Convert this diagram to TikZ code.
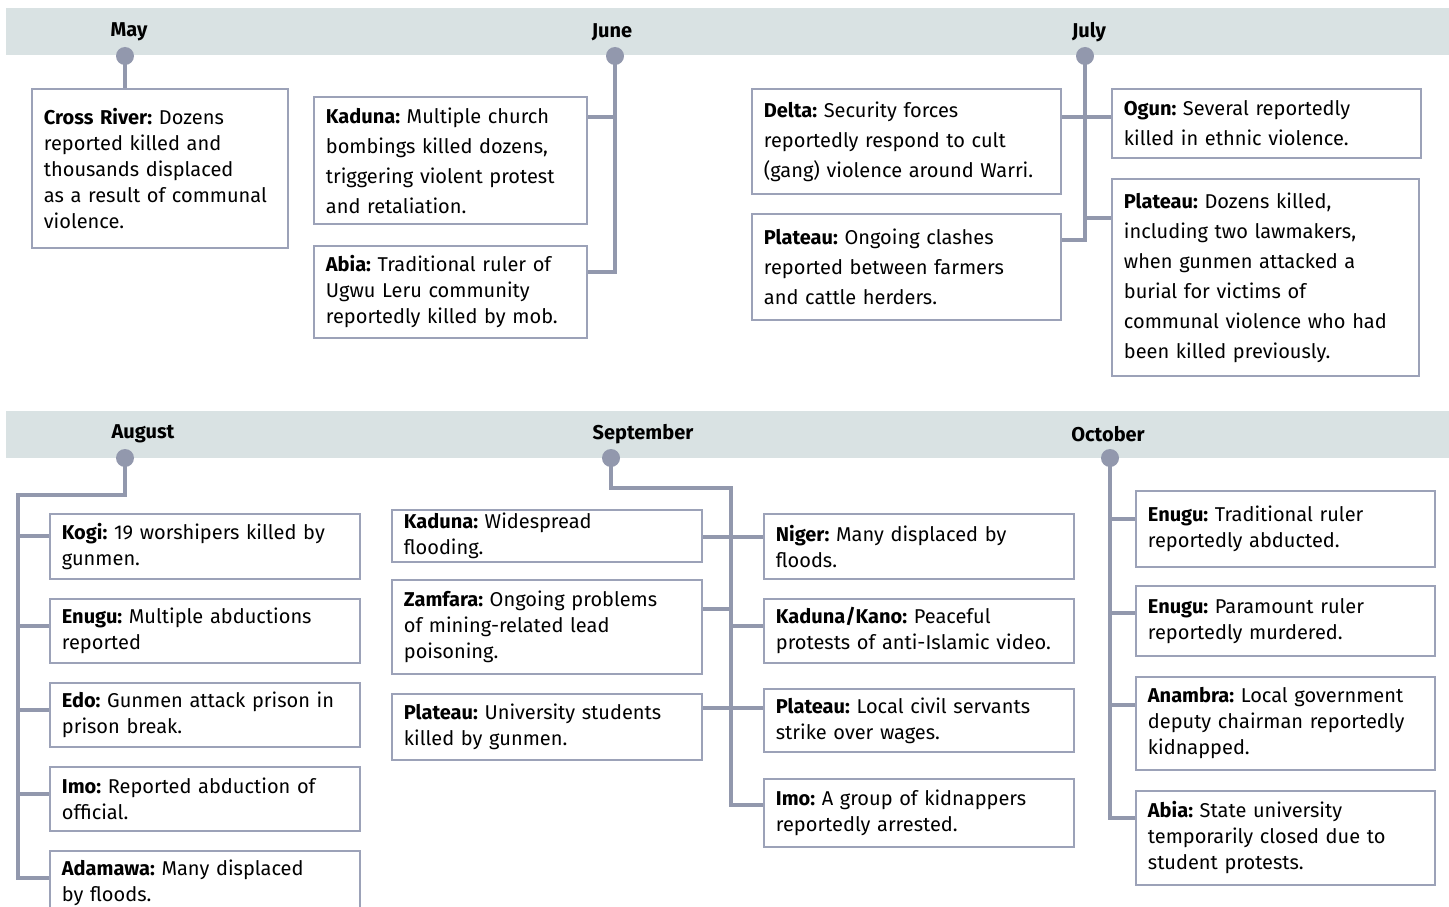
\documentclass[tikz,border=0pt]{standalone}
\usepackage{fontspec}
\setmainfont{Fira Sans}
\usepackage{xcolor}
\definecolor{bandgray}{HTML}{D9E2E3}
\definecolor{linkgray}{HTML}{9298AD}
\definecolor{boxgray}{HTML}{9CA2B8}
\usetikzlibrary{positioning}
\frenchspacing

\begin{document}
\begin{tikzpicture}[x=1pt,y=-1pt]
	 \tikzstyle{band}=[fill=bandgray,draw=none]
	 \tikzstyle{month}=[font=\bfseries\fontsize{20}{24}\selectfont]
	 \tikzstyle{dot}=[circle,minimum size=18pt,inner sep=0pt,fill=linkgray]
	 \tikzstyle{link}=[draw=linkgray,line width=3.5pt]
	 \tikzstyle{event}=[draw=boxgray,line width=1.8pt,fill=white,anchor=north west,align=left,inner xsep=12pt,inner ysep=0pt,font=\fontsize{20}{26}\selectfont]
	 \tikzstyle{loose}=[font=\fontsize{20}{30}\selectfont]

	 \useasboundingbox (0,0) rectangle (1449,907);

	 \fill[band] (6,8) rectangle (1449,55);
	 \fill[band] (6,411) rectangle (1449,458);

	 \node[month] (may) at (129,32) {May};
	 \node[month] (jun) at (612,32) {June};
	 \node[month] (jul) at (1089,32) {July};
	 \node[month] (aug) at (143,434) {August};
	 \node[month] (sep) at (643,434) {September};
	 \node[month] (oct) at (1108,434) {October};

	 \node[event,text width=232pt,minimum height=159pt] (may1) at (31,88) {\textbf{Cross River:} Dozens\\reported killed and\\thousands displaced\\as a result of communal\\violence.};

	 \node[event,loose,text width=249pt,minimum height=127pt] (jun1) at (313,96) {\textbf{Kaduna:} Multiple church\\bombings killed dozens,\\triggering violent protest\\and retaliation.};
	 \node[event,text width=249pt,minimum height=92pt] (jun2) at (313,245) {\textbf{Abia:} Traditional ruler of\\Ugwu Leru community\\reportedly killed by mob.};

	 \node[event,loose,text width=285pt,minimum height=105pt] (jul1) at (751,88) {\textbf{Delta:} Security forces\\reportedly respond to cult\\(gang) violence around Warri.};
	 \node[event,loose,text width=285pt,minimum height=106pt] (jul2) at (751,213) {\textbf{Plateau:} Ongoing clashes\\reported between farmers\\and cattle herders.};
	 \node[event,loose,text width=285pt,minimum height=69pt] (jul3) at (1111,88) {\textbf{Ogun:} Several reportedly\\killed in ethnic violence.};
	 \node[event,loose,text width=283pt,minimum height=197pt] (jul4) at (1111,178) {\textbf{Plateau:} Dozens killed,\\including two lawmakers,\\when gunmen attacked a\\burial for victims of\\communal violence who had\\been killed previously.};

	 \node[event,text width=286pt,minimum height=65pt] (aug1) at (49,513) {\textbf{Kogi:} 19 worshipers killed by\\gunmen.};
	 \node[event,text width=286pt,minimum height=64pt] (aug2) at (49,598) {\textbf{Enugu:} Multiple abductions\\reported};
	 \node[event,text width=286pt,minimum height=64pt] (aug3) at (49,682) {\textbf{Edo:} Gunmen attack prison in\\prison break.};
	 \node[event,text width=286pt,minimum height=64pt] (aug4) at (49,766) {\textbf{Imo:} Reported abduction of\\official.};
	 \node[event,text width=286pt,minimum height=64pt] (aug5) at (49,850) {\textbf{Adamawa:} Many displaced\\by floods.};

	 \node[event,text width=286pt,minimum height=52pt] (sep1) at (391,509) {\textbf{Kaduna:} Widespread\\flooding.};
	 \node[event,text width=286pt,minimum height=94pt] (sep2) at (391,579) {\textbf{Zamfara:} Ongoing problems\\of mining-related lead\\poisoning.};
	 \node[event,text width=286pt,minimum height=66pt] (sep3) at (391,693) {\textbf{Plateau:} University students\\killed by gunmen.};
	 \node[event,text width=286pt,minimum height=65pt] (sep4) at (763,513) {\textbf{Niger:} Many displaced by\\floods.};
	 \node[event,text width=286pt,minimum height=64pt] (sep5) at (763,598) {\textbf{Kaduna/Kano:} Peaceful\\protests of anti-Islamic video.};
	 \node[event,text width=286pt,minimum height=63pt] (sep6) at (763,688) {\textbf{Plateau:} Local civil servants\\strike over wages.};
	 \node[event,text width=286pt,minimum height=68pt] (sep7) at (763,778) {\textbf{Imo:} A group of kidnappers\\reportedly arrested.};

	 \node[event,text width=275pt,minimum height=76pt] (oct1) at (1135,490) {\textbf{Enugu:} Traditional ruler\\reportedly abducted.};
	 \node[event,text width=275pt,minimum height=70pt] (oct2) at (1135,585) {\textbf{Enugu:} Paramount ruler\\reportedly murdered.};
	 \node[event,text width=275pt,minimum height=93pt] (oct3) at (1135,676) {\textbf{Anambra:} Local government\\deputy chairman reportedly\\kidnapped.};
	 \node[event,text width=275pt,minimum height=94pt] (oct4) at (1135,790) {\textbf{Abia:} State university\\temporarily closed due to\\student protests.};

	 \node[dot] (may-dot) at (125,56) {};
	 \node[dot] (jun-dot) at (615,56) {};
	 \node[dot] (jul-dot) at (1085,56) {};
	 \node[dot] (aug-dot) at (125,458) {};
	 \node[dot] (sep-dot) at (611,458) {};
	 \node[dot] (oct-dot) at (1110,458) {};

	 \coordinate (jun-a) at (615,117);
	 \coordinate (jun-b) at (615,272);
	 \coordinate (jul-a) at (1085,117);
	 \coordinate (jul-b) at (1085,218);
	 \coordinate (jul-c) at (1085,240);
	 \coordinate (aug-knee) at (18,495);
	 \coordinate (aug-end) at (18,878);
	 \coordinate (sep-knee) at (731,488);
	 \coordinate (sep-end) at (731,805);
	 \coordinate (sep-z) at (731,609);
	 \coordinate (sep-k) at (731,626);
	 \coordinate (oct-end) at (1110,818);

	 \draw[link] (may-dot.center) -- (may-dot |- may1.north);
	 \draw[link] (jun-dot.center) -- (jun-b) -- (jun-b -| jun2.east);
	 \draw[link] (jun-a) -- (jun-a -| jun1.east);
	 \draw[link] (jul-dot.center) -- (jul-c) -- (jul-c -| jul2.east);
	 \draw[link] (jul1.east |- jul-a) -- (jul3.west |- jul-a);
	 \draw[link] (jul-b) -- (jul-b -| jul4.west);
	 \draw[link] (aug-dot.center) |- (aug-knee) -- (aug-end) -- (aug-end -| aug5.west);
	 \foreach \y/\b in {536/aug1,626/aug2,710/aug3,794/aug4}{
		 \coordinate (j) at (18,\y);
		 \draw[link] (j) -- (j -| \b.west);
	 }
	 \draw[link] (sep-dot.center) |- (sep-knee) -- (sep-end) -- (sep-end -| sep7.west);
	 \foreach \y/\a/\b in {537/sep1/sep4,708/sep3/sep6}{
		 \coordinate (j) at (731,\y);
		 \draw[link] (j -| \a.east) -- (j -| \b.west);
	 }
	 \draw[link] (sep-z) -- (sep-z -| sep2.east);
	 \draw[link] (sep-k) -- (sep-k -| sep5.west);
	 \draw[link] (oct-dot.center) -- (oct-end) -- (oct-end -| oct4.west);
	 \foreach \y/\b in {519/oct1,613/oct2,705/oct3}{
		 \coordinate (j) at (1110,\y);
		 \draw[link] (j) -- (j -| \b.west);
	 }
\end{tikzpicture}
\end{document}
